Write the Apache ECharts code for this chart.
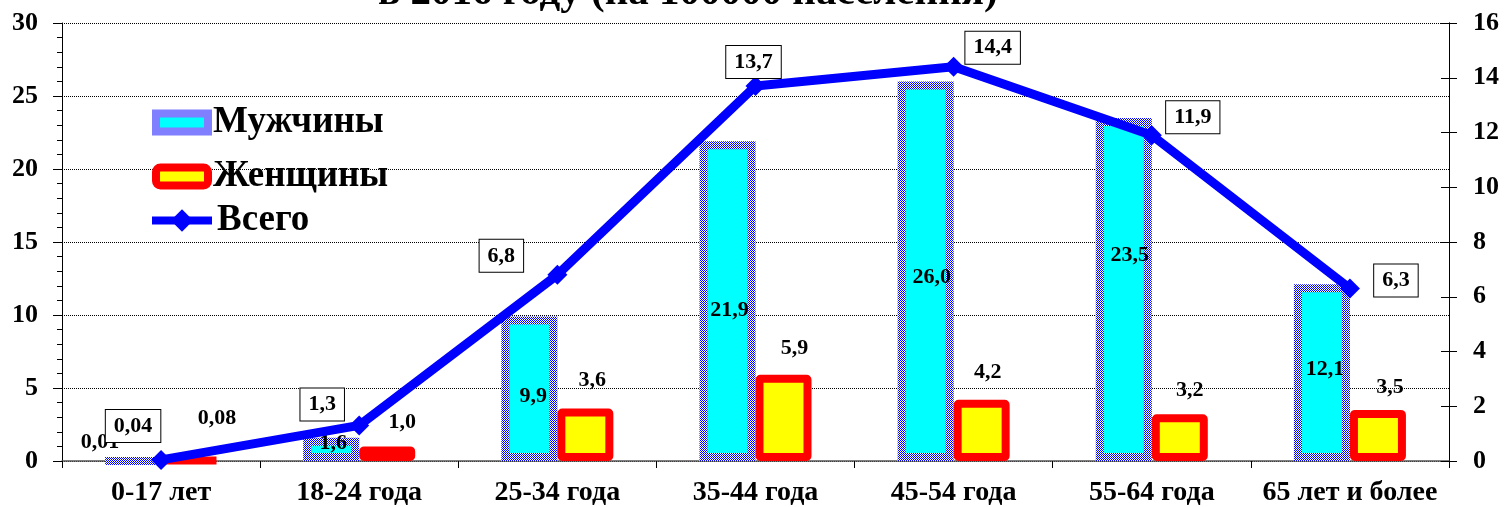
<!DOCTYPE html>
<html>
<head>
<meta charset="utf-8">
<script src="https://cdn.jsdelivr.net/npm/echarts@6/dist/echarts.min.js"></script>
<style>
  html, body { margin: 0; padding: 0; background: #fff; }
  #chart { width: 1506px; height: 507px; }
</style>
</head>
<body>
<div id="chart"></div>
<script>
// ---- data ----
const categories = ['0-17 лет', '18-24 года', '25-34 года', '35-44 года', '45-54 года', '55-64 года', '65 лет и более'];
const menValues = [0.01, 1.6, 9.9, 21.9, 26.0, 23.5, 12.1];
const womenValues = [0.08, 1.0, 3.6, 5.9, 4.2, 3.2, 3.5];
const totalValues = [0.04, 1.3, 6.8, 13.7, 14.4, 11.9, 6.3];
const leftTicks = { min: 0, max: 30, interval: 5 };
const rightTicks = { min: 0, max: 16, interval: 2 };
const seriesNames = ['Мужчины', 'Женщины', 'Всего'];
const titleText = 'в 2016 году (на 100000 населения)';

// ---- label placement (layout, not data) ----
const menLabelShift = [[-33, -19], [2, -6], [4, 8], [2, 9], [6, 6], [6, -34], [3, -3]];
const womenLabelShift = [[28, -12], [15, 2], [7, -2], [11, -1], [6, -1], [10, 2], [12, 3]];
const totalLabelShift = [[-28, -34], [-37, -21], [-56, -19], [-2, -24], [39, -19], [41, -18], [46, -8]];

const FONT = "'Liberation Serif', 'Times New Roman', serif";

function fmt(v) {
  const s = v < 0.1 ? v.toFixed(2) : v.toFixed(1);
  return s.replace('.', ',');
}

// checkered blue/white pattern for men bar border
const pc = document.createElement('canvas');
pc.width = 2; pc.height = 2;
const pctx = pc.getContext('2d');
pctx.fillStyle = '#ffffff'; pctx.fillRect(0, 0, 2, 2);
pctx.fillStyle = '#0000ff'; pctx.fillRect(0, 0, 1, 1); pctx.fillRect(1, 1, 1, 1);
const checker = { image: pc, repeat: 'repeat' };

const labelBase = {
  show: true, color: '#000', fontFamily: FONT, fontWeight: 'bold', fontSize: 22,
  textBorderWidth: 0
};

const chart = echarts.init(document.getElementById('chart'), null, { renderer: 'canvas' });

const option = {
  animation: false,
  backgroundColor: '#fff',
  title: {
    text: titleText, left: 378, top: -27, padding: 0,
    textStyle: { fontFamily: FONT, fontWeight: 'bold', fontSize: 41, color: '#000' }
  },
  legend: [
    {
      orient: 'vertical', left: 147, top: 99, itemWidth: 52, itemHeight: 18, itemGap: 17,
      textStyle: { fontFamily: FONT, fontWeight: 'bold', fontSize: 37, lineHeight: 32, color: '#000' },
      data: [
        { name: seriesNames[0], icon: 'rect', itemStyle: { borderWidth: 8 } },
        { name: seriesNames[1], icon: 'roundRect', itemStyle: { borderWidth: 8 } }
      ]
    },
    {
      orient: 'vertical', left: 143, top: 197, itemWidth: 60, itemHeight: 28,
      textStyle: { fontFamily: FONT, fontWeight: 'bold', fontSize: 37, lineHeight: 32, color: '#000' },
      data: [{ name: seriesNames[2], lineStyle: { width: 8 } }]
    }
  ],
  grid: { left: 62, right: 57, top: 23, bottom: 46, containLabel: false },
  xAxis: {
    type: 'category', data: categories,
    axisLine: { lineStyle: { color: '#555', width: 1.5 } },
    axisTick: { show: true, length: 7, lineStyle: { color: '#000' } },
    axisLabel: { color: '#000', fontFamily: FONT, fontWeight: 'bold', fontSize: 28, margin: 18, interval: 0 }
  },
  yAxis: [
    {
      type: 'value', position: 'left', min: leftTicks.min, max: leftTicks.max, interval: leftTicks.interval,
      axisLine: { show: true, lineStyle: { color: '#000', width: 1 } },
      axisTick: { show: true, length: 9, lineStyle: { color: '#000' } },
      minorTick: { show: true, splitNumber: 5, length: 5, lineStyle: { color: '#000' } },
      splitLine: { show: true, lineStyle: { color: '#000', type: 'dotted', width: 1 } },
      axisLabel: { color: '#000', fontFamily: FONT, fontWeight: 'bold', fontSize: 26, margin: 24 }
    },
    {
      type: 'value', position: 'right', min: rightTicks.min, max: rightTicks.max, interval: rightTicks.interval,
      axisLine: { show: true, lineStyle: { color: '#000', width: 1 } },
      axisTick: { show: true, length: 8, lineStyle: { color: '#000' } },
      splitLine: { show: false },
      axisLabel: { color: '#000', fontFamily: FONT, fontWeight: 'bold', fontSize: 26, margin: 24 }
    },
    {
      type: 'value', position: 'right', min: rightTicks.min, max: rightTicks.max, interval: rightTicks.interval,
      axisLine: { show: true, lineStyle: { color: '#000', width: 1 } },
      axisTick: { show: true, inside: true, length: 8, lineStyle: { color: '#000' } },
      splitLine: { show: false },
      axisLabel: { show: false }
    }
  ],
  series: [
    {
      name: seriesNames[0], type: 'bar', yAxisIndex: 0, barWidth: 56, barGap: '0%',
      itemStyle: { color: '#00ffff', borderColor: checker, borderWidth: 8 },
      data: menValues.map((v, i) => ({
        value: v,
        label: Object.assign({}, labelBase, { position: 'inside', offset: menLabelShift[i], formatter: p => fmt(p.value) })
      }))
    },
    {
      name: seriesNames[1], type: 'bar', yAxisIndex: 0, barWidth: 56, barGap: '0%',
      itemStyle: { color: '#ffff00', borderColor: '#ff0000', borderWidth: 8, borderRadius: 1 },
      data: womenValues.map((v, i) => ({
        value: v,
        label: Object.assign({}, labelBase, { position: 'top', distance: 15, offset: womenLabelShift[i], formatter: p => fmt(p.value) })
      }))
    },
    {
      name: seriesNames[2], type: 'line', yAxisIndex: 1, z: 5,
      symbol: 'diamond', symbolSize: 20,
      lineStyle: { color: '#0000ff', width: 9 },
      itemStyle: { color: '#0000ff' },
      data: totalValues.map((v, i) => ({
        value: v,
        label: Object.assign({}, labelBase, {
          position: 'inside', offset: totalLabelShift[i], formatter: p => fmt(p.value),
          backgroundColor: '#fff', borderColor: '#000', borderWidth: 1, padding: [5, 8]
        })
      }))
    }
  ]
};
chart.setOption(option);
</script>
</body>
</html>
